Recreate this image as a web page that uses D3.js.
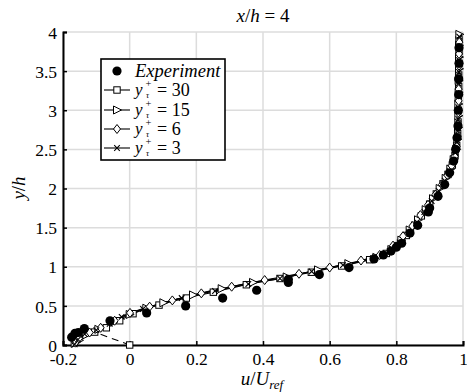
<!DOCTYPE html>
<html lang="en">
<head>
  <meta charset="UTF-8">
  <title>x/h = 4</title>
  <script src="https://cdn.jsdelivr.net/npm/d3@7"></script>
  <style>
    body { margin: 0; background: #fff; }
    text { font-family: "Liberation Serif", "DejaVu Serif", serif; fill: #000; }
  </style>
</head>
<body>
  <svg width="467" height="392" id="main"></svg>
<script>
  // tick labels
  const xTicks = [-0.2, 0, 0.2, 0.4, 0.6, 0.8, 1];
  const yTicks = [0, 0.5, 1, 1.5, 2, 2.5, 3, 3.5, 4];

  // experiment (filled dots)
  const experiment = [
    [-0.174,0.10],[-0.164,0.15],[-0.154,0.16],[-0.136,0.21],[-0.059,0.31],[0.051,0.41],
    [0.168,0.50],[0.279,0.60],[0.381,0.70],[0.476,0.80],[0.476,0.84],[0.569,0.90],
    [0.658,0.99],[0.733,1.10],[0.761,1.15],[0.784,1.20],[0.80,1.25],[0.816,1.30],
    [0.841,1.43],[0.864,1.53],[0.896,1.70],[0.90,1.75],[0.925,1.90],[0.945,2.05],
    [0.96,2.20],[0.972,2.35],[0.978,2.50],[0.982,2.65],[0.985,2.80],[0.986,3.00],
    [0.987,3.20],[0.987,3.40],[0.988,3.60],[0.988,3.80]
  ];

  // y+ = 30, first point is the wall (dashed segment)
  const yp30 = [
    [0.000,0.00],[-0.105,0.165],[-0.07,0.22],[-0.03,0.31],[0.01,0.40],[0.088,0.51],
    [0.17,0.60],[0.251,0.675],[0.35,0.77],[0.451,0.85],[0.545,0.93],[0.636,1.01],
    [0.72,1.09],[0.77,1.17],[0.80,1.27],[0.83,1.40],[0.855,1.53],[0.875,1.65],
    [0.90,1.80],[0.92,1.93],[0.94,2.06],[0.955,2.18],[0.968,2.30],[0.976,2.42],
    [0.981,2.55],[0.984,2.70],[0.985,2.85],[0.986,3.00],[0.986,3.15],[0.987,3.30],
    [0.987,3.45],[0.988,3.60],[0.988,3.75],[0.988,3.90]
  ];
  const yp15 = [
    [-0.165,0.02],[-0.152,0.06],[-0.13,0.13],[-0.094,0.20],[-0.05,0.29],[0.0,0.39],
    [0.05,0.47],[0.101,0.54],[0.19,0.64],[0.276,0.72],[0.37,0.80],[0.471,0.87],
    [0.565,0.96],[0.656,1.04],[0.74,1.12],[0.785,1.22],[0.815,1.34],[0.84,1.47],
    [0.865,1.60],[0.888,1.73],[0.91,1.87],[0.93,2.00],[0.948,2.13],[0.962,2.25],
    [0.972,2.37],[0.979,2.50],[0.983,2.63],[0.985,2.78],[0.986,2.93],[0.986,3.08],
    [0.987,3.23],[0.987,3.38],[0.988,3.53],[0.988,3.68],[0.988,3.83],[0.989,3.97]
  ];
  const yp6 = [
    [-0.163,0.03],[-0.152,0.085],[-0.12,0.16],[-0.087,0.22],[-0.045,0.31],[0.001,0.41],
    [0.06,0.49],[0.128,0.57],[0.215,0.66],[0.306,0.745],[0.405,0.83],[0.508,0.91],
    [0.60,0.99],[0.694,1.08],[0.75,1.15],[0.79,1.27],[0.82,1.39],[0.848,1.52],
    [0.872,1.66],[0.895,1.79],[0.917,1.92],[0.937,2.05],[0.953,2.17],[0.966,2.29],
    [0.975,2.41],[0.981,2.54],[0.984,2.67],[0.985,2.82],[0.986,2.97],[0.987,3.12],
    [0.987,3.27],[0.988,3.42],[0.988,3.57],[0.988,3.72],[0.989,3.87]
  ];
  const yp3 = [
    [-0.165,0.01],[-0.155,0.07],[-0.135,0.14],[-0.10,0.19],[-0.06,0.27],[-0.024,0.36],
    [0.04,0.46],[0.156,0.60],[0.256,0.69],[0.356,0.78],[0.451,0.85],[0.546,0.94],
    [0.64,1.02],[0.73,1.11],[0.78,1.20],[0.81,1.31],[0.838,1.44],[0.862,1.57],
    [0.884,1.70],[0.906,1.84],[0.927,1.97],[0.945,2.10],[0.96,2.22],[0.971,2.34],
    [0.978,2.46],[0.982,2.59],[0.985,2.74],[0.986,2.89],[0.986,3.04],[0.987,3.19],
    [0.987,3.34],[0.988,3.49],[0.988,3.64],[0.988,3.79],[0.989,3.94]
  ];

  const seriesLabels = ['30', '15', '6', '3'];
  const seriesMarkers = ['square', 'triangle', 'diamond', 'cross'];

  const svg = d3.select('#main');
  const m = { left: 63, right: 4, top: 32, bottom: 47 };
  const W = 467, H = 392;

  const x = d3.scaleLinear().domain([-0.2, 1]).range([m.left, W - m.right]);
  const y = d3.scaleLinear().domain([0, 4]).range([H - m.bottom, m.top]);

  // grid
  const grid = svg.append('g');
  grid.selectAll('.gx').data(xTicks).enter().append('line')
    .attr('x1', d => x(d)).attr('x2', d => x(d))
    .attr('y1', y(0)).attr('y2', y(4))
    .attr('stroke', '#dcdcdc').attr('stroke-width', 1.5);
  grid.selectAll('.gy').data(yTicks).enter().append('line')
    .attr('y1', d => y(d)).attr('y2', d => y(d))
    .attr('x1', x(-0.2)).attr('x2', x(1))
    .attr('stroke', '#dcdcdc').attr('stroke-width', 1.5);

  // axes (ticks inside)
  const fmt = d => d === 0 ? '0' : (d < 0 ? '-' + Math.abs(d) : String(d));
  const xAxis = svg.append('g').attr('transform', `translate(0,${y(0)})`)
    .call(d3.axisBottom(x).tickValues(xTicks).tickSize(-4).tickPadding(8).tickFormat(fmt));
  const yAxis = svg.append('g').attr('transform', `translate(${x(-0.2)},0)`)
    .call(d3.axisLeft(y).tickValues(yTicks).tickSize(-4).tickPadding(6).tickFormat(fmt));
  [xAxis, yAxis].forEach(a => {
    a.select('.domain').attr('stroke', '#000').attr('stroke-width', 2);
    a.selectAll('.tick line').attr('stroke', '#000').attr('stroke-width', 1.5);
    a.selectAll('.tick text').attr('font-size', 17.5)
      .attr('font-family', '"Liberation Serif", serif').attr('fill', '#000');
  });
  yAxis.selectAll('.tick text').attr('dy', '0.35em');

  // marker shapes
  function drawMarker(sel, type) {
    if (type === 'square') {
      sel.append('rect').attr('x', -3.2).attr('y', -3.2).attr('width', 6.4).attr('height', 6.4)
        .attr('fill', '#fff').attr('stroke', '#000').attr('stroke-width', 1);
    } else if (type === 'triangle') {
      sel.append('path').attr('d', 'M-3.5,-4L4.5,0L-3.5,4Z')
        .attr('fill', '#fff').attr('stroke', '#000').attr('stroke-width', 1);
    } else if (type === 'diamond') {
      sel.append('path').attr('d', 'M0,-4.5L3.5,0L0,4.5L-3.5,0Z')
        .attr('fill', '#fff').attr('stroke', '#000').attr('stroke-width', 1);
    } else {
      sel.append('path').attr('d', 'M-2.8,-2.8L2.8,2.8M-2.8,2.8L2.8,-2.8')
        .attr('stroke', '#000').attr('stroke-width', 1.1);
    }
  }

  const line = d3.line().x(d => x(d[0])).y(d => y(d[1])).curve(d3.curveMonotoneY);
  const plot = svg.append('g');
  const allSeries = [yp30, yp15, yp6, yp3];

  // wall segment of y+=30, dashed
  plot.append('path').datum(yp30.slice(0, 2)).attr('d', d3.line().x(d => x(d[0])).y(d => y(d[1])))
    .attr('fill', 'none').attr('stroke', '#000').attr('stroke-width', 1.1).attr('stroke-dasharray', '7,5');

  allSeries.forEach((s, i) => {
    const pts = i === 0 ? s.slice(1) : s;
    plot.append('path').datum(pts).attr('d', line)
      .attr('fill', 'none').attr('stroke', '#000').attr('stroke-width', 1.1);
  });
  allSeries.forEach((s, i) => {
    plot.selectAll('.mk' + i).data(s).enter().append('g')
      .attr('transform', d => `translate(${x(d[0])},${y(d[1])})`)
      .each(function () { drawMarker(d3.select(this), seriesMarkers[i]); });
  });
  plot.selectAll('.exp').data(experiment).enter().append('circle')
    .attr('cx', d => x(d[0])).attr('cy', d => y(d[1])).attr('r', 4.6).attr('fill', '#000');

  // title and labels
  const title = svg.append('text').attr('x', 263).attr('y', 22).attr('text-anchor', 'middle').attr('font-size', 19);
  title.append('tspan').attr('font-style', 'italic').text('x');
  title.append('tspan').text('/');
  title.append('tspan').attr('font-style', 'italic').text('h');
  title.append('tspan').text(' = 4');

  const yl = svg.append('text').attr('transform', 'translate(25,188) rotate(-90)')
    .attr('text-anchor', 'middle').attr('font-size', 19);
  yl.append('tspan').attr('font-style', 'italic').text('y');
  yl.append('tspan').text('/');
  yl.append('tspan').attr('font-style', 'italic').text('h');

  const xl = svg.append('text').attr('x', 262).attr('y', 385).attr('text-anchor', 'middle').attr('font-size', 19);
  xl.append('tspan').attr('font-style', 'italic').text('u');
  xl.append('tspan').text('/');
  xl.append('tspan').attr('font-style', 'italic').text('U');
  xl.append('tspan').attr('font-style', 'italic').attr('font-size', 13).attr('dy', 4).text('ref');

  // legend
  const lg = svg.append('g');
  lg.append('rect').attr('x', 101).attr('y', 59).attr('width', 124).attr('height', 101)
    .attr('fill', '#fff').attr('stroke', '#000').attr('stroke-width', 1.6);
  const rowY = [71, 90, 110, 129, 148];
  lg.append('circle').attr('cx', 117).attr('cy', rowY[0]).attr('r', 4.6).attr('fill', '#000');
  lg.append('text').attr('x', 135).attr('y', rowY[0] + 6).attr('font-size', 18.5)
    .attr('font-style', 'italic').text('Experiment');
  seriesLabels.forEach((lab, i) => {
    const ry = rowY[i + 1];
    const row = lg.append('g');
    row.append('line').attr('x1', 104).attr('x2', 130).attr('y1', ry).attr('y2', ry)
      .attr('stroke', '#000').attr('stroke-width', 1.1);
    drawMarker(row.append('g').attr('transform', `translate(117,${ry})`), seriesMarkers[i]);
    row.append('text').attr('x', 135).attr('y', ry + 5).attr('font-size', 17)
      .attr('font-style', 'italic').text('y');
    row.append('text').attr('x', 146).attr('y', ry + 7.5).attr('font-size', 8.5)
      .attr('font-style', 'italic').text('τ');
    row.append('text').attr('x', 145.5).attr('y', ry - 3).attr('font-size', 10.5).text('+');
    row.append('text').attr('x', 157).attr('y', ry + 6).attr('font-size', 18).text('= ' + lab);
  });
</script>
</body>
</html>
